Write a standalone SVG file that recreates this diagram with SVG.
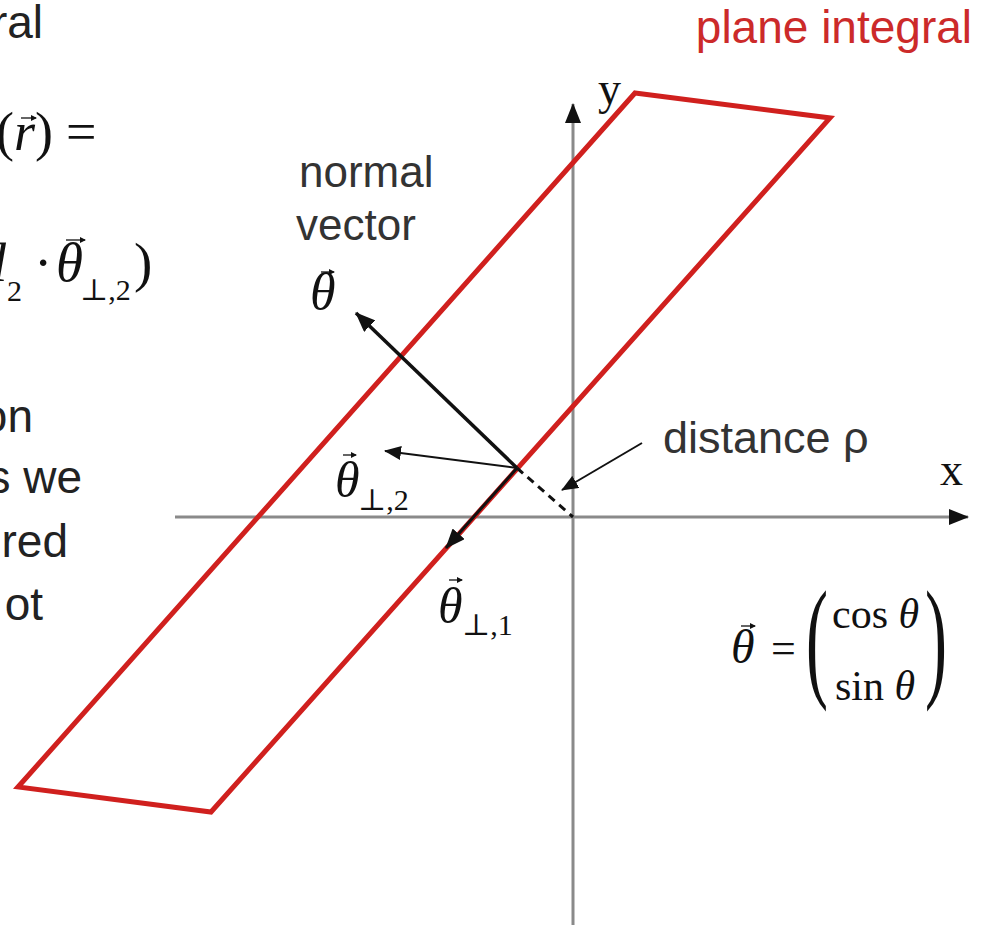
<svg xmlns="http://www.w3.org/2000/svg" width="985" height="929" viewBox="0 0 985 929">
<style>
.sans{font-family:"Liberation Sans",Arial,sans-serif;fill:#222}
.ser{font-family:"Liberation Serif","DejaVu Serif",serif;fill:#111}
.it{font-style:italic}
.axis{stroke:#8a8a8a;stroke-width:3;fill:none}
.vec{stroke:#111;fill:none}
.acc{stroke:#111;stroke-width:1.3;fill:none}
</style>
<defs>
<marker id="ah" markerUnits="userSpaceOnUse" markerWidth="20" markerHeight="16" refX="19" refY="8" orient="auto"><path d="M0,0 L20,8 L0,16 z" fill="#111"/></marker>
<marker id="ahs" markerUnits="userSpaceOnUse" markerWidth="17" markerHeight="14" refX="16" refY="7" orient="auto"><path d="M0,0 L17,7 L0,14 z" fill="#111"/></marker>
<marker id="am" markerUnits="userSpaceOnUse" markerWidth="6" markerHeight="6" refX="5" refY="3" orient="auto"><path d="M0,0 L6,3 L0,6 z" fill="#111"/></marker>
</defs>
<rect width="985" height="929" fill="#fff"/>

<g id="slide-text">
<text class="sans" x="43" y="38" font-size="46" text-anchor="end">ral</text>
<text class="sans" x="33" y="432" font-size="46" text-anchor="end">on</text>
<text class="sans" x="82" y="493" font-size="46" text-anchor="end">s we</text>
<text class="sans" x="68" y="557" font-size="46" text-anchor="end">red</text>
<text class="sans" x="43" y="620" font-size="46" text-anchor="end">ot</text>
</g>

<g id="formula-1">
<text class="ser" x="-4" y="150" font-size="54">(</text>
<text class="ser it" x="14" y="150" font-size="54">r</text>
<line class="acc" x1="21" y1="118" x2="36" y2="118" marker-end="url(#am)"/>
<text class="ser" x="35" y="150" font-size="54">)</text>
<text class="ser" x="66" y="150" font-size="54">=</text>
</g>

<g id="formula-2">
<text class="ser it" x="-8" y="281" font-size="55">l</text>
<text class="ser" x="7" y="301" font-size="30">2</text>
<text class="ser" x="34" y="281" font-size="55">·</text>
<text class="ser it" x="56" y="281" font-size="55">θ</text>
<line class="acc" x1="66" y1="240" x2="85" y2="240" marker-end="url(#am)"/>
<text class="ser" x="80" y="300" font-size="30">⊥,2</text>
<text class="ser" x="134" y="281" font-size="55">)</text>
</g>

<g id="plane-label">
<text class="sans" x="972" y="43" font-size="46" text-anchor="end" style="fill:#cc2a2a">plane integral</text>
</g>

<g id="axes">
<line class="axis" x1="573" y1="925" x2="573" y2="104" marker-end="url(#ah)"/>
<line class="axis" x1="175" y1="517" x2="968" y2="517" marker-end="url(#ah)"/>
<text class="ser" x="598" y="104" font-size="46">y</text>
<text class="ser" x="940" y="485" font-size="46">x</text>
</g>

<g id="plane">
<polygon points="635,93 830,118 211,812 18,787" fill="none" stroke="#d0201e" stroke-width="5" stroke-linejoin="miter"/>
</g>

<g id="connectors">
<line class="vec" x1="517" y1="468" x2="356" y2="313" stroke-width="3.5" marker-end="url(#ah)"/>
<line class="vec" x1="517" y1="468" x2="385" y2="451" stroke-width="2" marker-end="url(#ahs)"/>
<line class="vec" x1="517" y1="468" x2="446" y2="548" stroke-width="3" marker-end="url(#ah)"/>
<line class="vec" x1="517" y1="468" x2="573" y2="517" stroke-width="3" stroke-dasharray="8,6"/>
<line class="vec" x1="642" y1="443" x2="562" y2="490" stroke-width="2" marker-end="url(#ahs)"/>
</g>

<g id="normal-label">
<text class="sans" x="299" y="187" font-size="44" style="fill:#333">normal</text>
<text class="sans" x="296" y="240" font-size="44" style="fill:#333">vector</text>
<text class="ser it" x="310" y="309" font-size="52">θ</text>
<line class="acc" x1="321" y1="272" x2="334" y2="272" marker-end="url(#am)"/>
</g>

<g id="theta-perp2-label">
<text class="ser it" x="335" y="497" font-size="50">θ</text>
<line class="acc" x1="343" y1="455" x2="356" y2="455" marker-end="url(#am)"/>
<text class="ser" x="358" y="510" font-size="30">⊥,2</text>
</g>

<g id="theta-perp1-label">
<text class="ser it" x="438" y="623" font-size="50">θ</text>
<line class="acc" x1="449" y1="580" x2="462" y2="580" marker-end="url(#am)"/>
<text class="ser" x="462" y="635" font-size="30">⊥,1</text>
</g>

<g id="distance-label">
<text class="sans" x="663" y="453" font-size="45" style="fill:#333">distance ρ</text>
</g>

<g id="theta-def">
<text class="ser it" x="731" y="663" font-size="48">θ</text>
<line class="acc" x1="741" y1="626" x2="755" y2="626" marker-end="url(#am)"/>
<text class="ser" x="771" y="663" font-size="44">=</text>
<text class="ser" transform="translate(806,683) scale(1,2.03)" font-size="66">(</text>
<text class="ser" transform="translate(925,683) scale(1,2.03)" font-size="66">)</text>
<text class="ser" x="832" y="628" font-size="42">cos <tspan class="it">θ</tspan></text>
<text class="ser" x="835" y="700" font-size="42">sin <tspan class="it">θ</tspan></text>
</g>
</svg>
